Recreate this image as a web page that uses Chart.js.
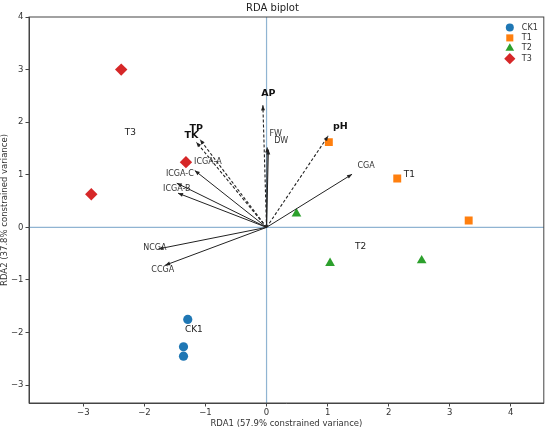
<!DOCTYPE html>
<html>
<head>
<meta charset="utf-8">
<script src="https://cdn.jsdelivr.net/npm/chart.js@4.4.0/dist/chart.umd.min.js"></script>
<style>
  html, body { margin: 0; padding: 0; background: #fff; }
  #wrap { width: 550px; height: 429px; }
</style>
</head>
<body>
<div id="wrap"><canvas id="rdaChart"></canvas></div>
<script>
// sample scores
const groups = ['CK1', 'T1', 'T2', 'T3'];
const ck1X = [-1.29, -1.36, -1.36];
const ck1Y = [-1.75, -2.27, -2.45];
const t1X = [1.02, 2.14, 3.31];
const t1Y = [1.62, 0.93, 0.13];
const t2X = [0.49, 1.04, 2.54];
const t2Y = [0.26, -0.68, -0.63];
const t3X = [-2.38, -2.87, -1.32];
const t3Y = [3.00, 0.63, 1.24];

// group label positions (data units)
const groupLabelX = [-1.19, 2.34, 1.54, -2.23];
const groupLabelY = [-1.94, 1.00, -0.37, 1.81];

// variable arrows (tips) and their labels
const varNames = ['AP', 'TP', 'TK', 'FW', 'DW', 'pH', 'CGA', 'ICGA-A', 'ICGA-C', 'ICGA-B', 'NCGA', 'CCGA'];
const varX = [-0.06, -1.09, -1.15, 0.01, 0.03, 1.01, 1.40, -1.175, -1.47, -1.45, -1.77, -1.66];
const varY = [2.32, 1.67, 1.62, 1.52, 1.48, 1.74, 1.01, 1.08, 0.84, 0.65, -0.41, -0.72];
const varLabelX = [0.03, -1.15, -1.23, 0.15, 0.24, 1.21, 1.63, -0.96, -1.42, -1.47, -1.83, -1.70];
const varLabelY = [2.54, 1.88, 1.74, 1.77, 1.64, 1.92, 1.17, 1.24, 1.01, 0.74, -0.40, -0.80];
const envVars = ['AP', 'TP', 'TK', 'pH'];

const xTicks = [-3, -2, -1, 0, 1, 2, 3, 4];
const yTicks = [-3, -2, -1, 0, 1, 2, 3, 4];

const colors = ['#1f77b4', '#ff7f0e', '#2ca02c', '#d62728'];
const shapes = ['circle', 'rect', 'triangle', 'rectRot'];
const sizes = [4.6, 5.6, 5.6, 6.2];

const toPts = (xs, ys) => xs.map((x, i) => ({ x: x, y: ys[i] }));
const groupData = [toPts(ck1X, ck1Y), toPts(t1X, t1Y), toPts(t2X, t2Y), toPts(t3X, t3Y)];

const datasets = [];
varNames.forEach((name, i) => {
    const env = envVars.includes(name);
    datasets.push({
        type: 'scatter',
        label: name,
        data: [{ x: 0, y: 0 }, { x: varX[i], y: varY[i] }],
        showLine: true,
        borderColor: '#222',
        borderWidth: env ? 1.1 : 1,
        borderDash: env ? [3, 2] : [],
        pointRadius: 0,
        isArrow: true
    });
});
groups.forEach((g, i) => {
    datasets.push({
        type: 'scatter',
        label: g,
        data: groupData[i],
        pointStyle: shapes[i],
        pointRadius: sizes[i],
        pointHoverRadius: sizes[i],
        backgroundColor: colors[i],
        borderColor: colors[i],
        borderWidth: 0
    });
});

const biplotPlugin = {
    id: 'biplot',
    beforeDatasetsDraw(chart) {
        const { ctx, chartArea: a, scales: { x, y } } = chart;
        ctx.save();
        ctx.strokeStyle = 'rgba(70,130,180,0.6)';
        ctx.lineWidth = 1.2;
        const x0 = x.getPixelForValue(0), y0 = y.getPixelForValue(0);
        ctx.beginPath();
        ctx.moveTo(x0, a.top); ctx.lineTo(x0, a.bottom);
        ctx.moveTo(a.left, y0); ctx.lineTo(a.right, y0);
        ctx.stroke();
        ctx.restore();
    },
    afterDatasetsDraw(chart) {
        const { ctx, chartArea: a, scales: { x, y } } = chart;
        ctx.save();
        // arrow heads
        ctx.fillStyle = '#222';
        varNames.forEach((name, i) => {
            const px = x.getPixelForValue(varX[i]), py = y.getPixelForValue(varY[i]);
            const ang = Math.atan2(py - y.getPixelForValue(0), px - x.getPixelForValue(0));
            const len = 5, w = 2;
            ctx.beginPath();
            ctx.moveTo(px, py);
            ctx.lineTo(px - len * Math.cos(ang) + w * Math.sin(ang), py - len * Math.sin(ang) - w * Math.cos(ang));
            ctx.lineTo(px - len * Math.cos(ang) - w * Math.sin(ang), py - len * Math.sin(ang) + w * Math.cos(ang));
            ctx.closePath();
            ctx.fill();
        });
        // variable labels
        ctx.textAlign = 'center';
        ctx.textBaseline = 'middle';
        varNames.forEach((name, i) => {
            const env = envVars.includes(name);
            ctx.font = env ? 'bold 9.5px "DejaVu Sans"' : '8px "DejaVu Sans"';
            ctx.fillStyle = env ? '#111' : '#333';
            ctx.fillText(name, x.getPixelForValue(varLabelX[i]), y.getPixelForValue(varLabelY[i]));
        });
        // group labels
        ctx.font = '9px "DejaVu Sans"';
        ctx.fillStyle = '#222';
        groups.forEach((g, i) => {
            ctx.fillText(g, x.getPixelForValue(groupLabelX[i]), y.getPixelForValue(groupLabelY[i]));
        });
        // frame
        ctx.strokeStyle = '#444';
        ctx.lineWidth = 1;
        ctx.strokeRect(a.left, a.top, a.right - a.left, a.bottom - a.top);
        // legend
        ctx.textAlign = 'left';
        ctx.font = '8px "DejaVu Sans"';
        groups.forEach((g, i) => {
            const ly = a.top + 10.5 + i * 10.4;
            ctx.fillStyle = colors[i];
            ctx.strokeStyle = colors[i];
            Chart.helpers.drawPoint(ctx, { pointStyle: shapes[i], radius: sizes[i] - 0.6, borderWidth: 0 }, a.right - 34, ly);
            ctx.fillStyle = '#333';
            ctx.fillText(g, a.right - 22, ly);
        });
        ctx.restore();
    }
};

const ctx = document.getElementById('rdaChart').getContext('2d');
new Chart(ctx, {
    data: { datasets: datasets },
    options: {
        responsive: true,
        maintainAspectRatio: false,
        animation: false,
        layout: { padding: { top: 0, right: 5, bottom: 0, left: 0 } },
        plugins: {
            legend: { display: false },
            tooltip: { enabled: false },
            title: {
                display: true,
                text: 'RDA biplot',
                color: '#222',
                font: { family: 'DejaVu Sans', size: 10, weight: 'normal' },
                padding: { top: 2, bottom: 3 }
            }
        },
        scales: {
            x: {
                type: 'linear',
                min: -3.89,
                max: 4.54,
                afterBuildTicks: s => { s.ticks = xTicks.map(v => ({ value: v })); },
                afterFit: s => { s.height = 26; },
                grid: { drawOnChartArea: false, drawTicks: true, tickLength: 3.5, color: '#444' },
                border: { display: true, color: '#444' },
                ticks: { color: '#333', font: { family: 'DejaVu Sans', size: 8.5 }, padding: 1,
                         callback: v => (v < 0 ? '\u2212' + Math.abs(v) : String(v)) },
                title: { display: true, text: 'RDA1 (57.9% constrained variance)', color: '#333',
                         font: { family: 'DejaVu Sans', size: 8.5 }, padding: { top: 0, bottom: 0 } }
            },
            y: {
                type: 'linear',
                min: -3.34,
                max: 4.0,
                afterBuildTicks: s => { s.ticks = yTicks.map(v => ({ value: v })); },
                afterFit: s => { s.width = 29; },
                grid: { drawOnChartArea: false, drawTicks: true, tickLength: 3.5, color: '#444' },
                border: { display: true, color: '#444' },
                ticks: { color: '#333', font: { family: 'DejaVu Sans', size: 8.5 }, padding: 2,
                         callback: v => (v < 0 ? '\u2212' + Math.abs(v) : String(v)) },
                title: { display: true, text: 'RDA2 (37.8% constrained variance)', color: '#333',
                         font: { family: 'DejaVu Sans', size: 8.5 }, padding: { top: 0, bottom: 1 } }
            }
        }
    },
    plugins: [biplotPlugin]
});
</script>
</body>
</html>
